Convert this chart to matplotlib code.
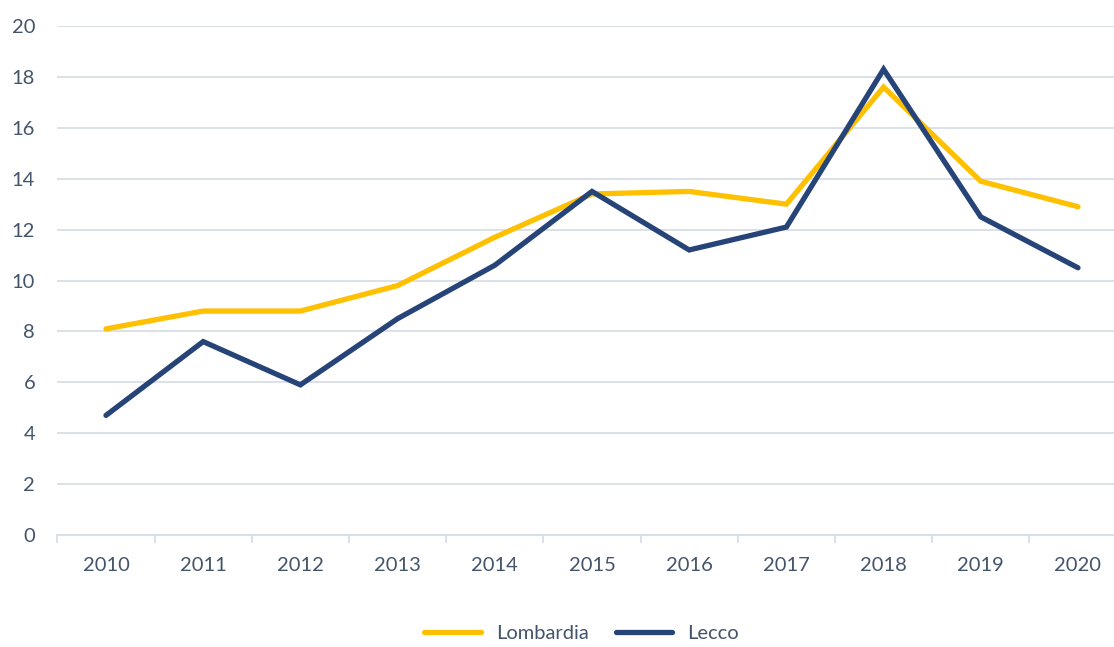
import matplotlib
matplotlib.use('Agg')
import numpy as np
from matplotlib import pyplot as plt

years = ['2010', '2011', '2012', '2013', '2014', '2015', '2016', '2017', '2018', '2019', '2020']
lombardia = [8.1, 8.8, 8.8, 9.8, 11.7, 13.4, 13.5, 13.0, 17.6, 13.9, 12.9]
lecco = [4.7, 7.6, 5.9, 8.5, 10.6, 13.5, 11.2, 12.1, 18.3, 12.5, 10.5]
yticks = [0, 2, 4, 6, 8, 10, 12, 14, 16, 18, 20]

txt = '#44546A'
grid = '#D9DEE7'
plt.rcParams['font.family'] = ['Lato', 'DejaVu Sans']
fs = 14.5

fig = plt.figure(figsize=(11.14, 6.47), dpi=100)
ax = fig.add_axes([0.0515, 0.1731, 0.9598, 0.7867])

x = np.arange(len(years))
ax.plot(x, lombardia, color='#FFC000', lw=3.8, solid_capstyle='round', solid_joinstyle='miter', label='Lombardia', zorder=3)
ax.plot(x, lecco, color='#264478', lw=3.8, solid_capstyle='round', solid_joinstyle='miter', label='Lecco', zorder=4)

ax.set_xlim(-0.5, len(years) - 0.5)
ax.set_ylim(0, 20)
ax.set_yticks(yticks)
ax.set_yticklabels([str(v) for v in yticks])
ax.yaxis.grid(True, color=grid, lw=1.3)
ax.set_axisbelow(True)

# boundaries as major ticks, labels on the centres
ax.set_xticks(np.arange(-0.5, len(years), 1.0))
ax.set_xticklabels([])
ax.set_xticks(x, minor=True)
ax.set_xticklabels(years, minor=True)
ax.tick_params(axis='x', which='major', length=6, width=1.3, color=grid)
ax.tick_params(axis='x', which='minor', length=0, pad=16, labelsize=fs, labelcolor=txt)
ax.tick_params(axis='y', length=0, pad=16, labelsize=fs, labelcolor=txt)

for s in ['top', 'right', 'left']:
    ax.spines[s].set_visible(False)
ax.spines['bottom'].set_color(grid)
ax.spines['bottom'].set_linewidth(1.3)

leg = fig.legend(loc='center', bbox_to_anchor=(0.522, 0.021), ncol=2, frameon=False,
                 fontsize=fs, handlelength=2.8, columnspacing=1.35, handletextpad=0.75)
for t in leg.get_texts():
    t.set_color(txt)

fig.savefig('out.png', dpi=100)
